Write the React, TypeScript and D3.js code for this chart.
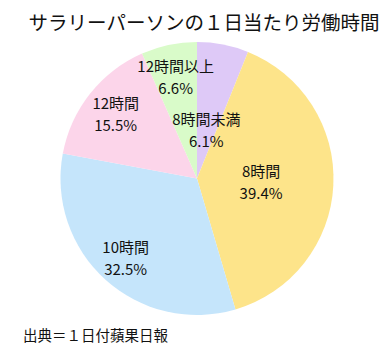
import React from "react";
import * as d3 from "d3";

const categories = ["8時間未満", "8時間", "10時間", "12時間", "12時間以上"];
const values = [6.1, 39.4, 32.5, 15.5, 6.6];
const colors = ["#dec9f7", "#fde48a", "#c5e5fb", "#fcd5ea", "#d9fbc9"];
// how far out each label sits, as a share of the radius
const labelRadius = [0.36, 0.47, 0.78, 0.76, 0.76];

const title = "サラリーパーソンの１日当たり労働時間";
const source = "出典＝１日付蘋果日報";

const W = 384;
const H = 353;
const cx = 197;
const cy = 178.5;
const r = 136.5;
const font = "'Noto Sans CJK JP', 'Noto Sans', sans-serif";

function App() {
  const pie = d3
    .pie<number>()
    .sort(null)
    .value((d) => d);
  const arcs = pie(values);
  const arc = d3.arc<d3.PieArcDatum<number>>().innerRadius(0).outerRadius(r);

  return (
    <svg
      width={W}
      height={H}
      style={{ position: "absolute", left: 0, top: 0, background: "#fff" }}
      fontFamily={font}
    >
      <text x={204} y={30} textAnchor="middle" fontSize={19.5} fill="#111">
        {title}
      </text>
      <g transform={`translate(${cx},${cy})`}>
        {arcs.map((a, i) => (
          <path key={i} d={arc(a) || ""} fill={colors[i]} />
        ))}
        {arcs.map((a, i) => {
          const lr = r * labelRadius[i];
          const la = d3.arc<d3.PieArcDatum<number>>().innerRadius(lr).outerRadius(lr);
          const [x, y] = la.centroid(a);
          return (
            <text key={i} x={x} textAnchor="middle" fontSize={15} fill="#111">
              <tspan x={x} y={y - 5}>{categories[i]}</tspan>
              <tspan x={x} y={y + 17}>{values[i].toFixed(1)}%</tspan>
            </text>
          );
        })}
      </g>
      <text x={23} y={341} fontSize={14.5} fill="#111">
        {source}
      </text>
    </svg>
  );
}

export default App;
